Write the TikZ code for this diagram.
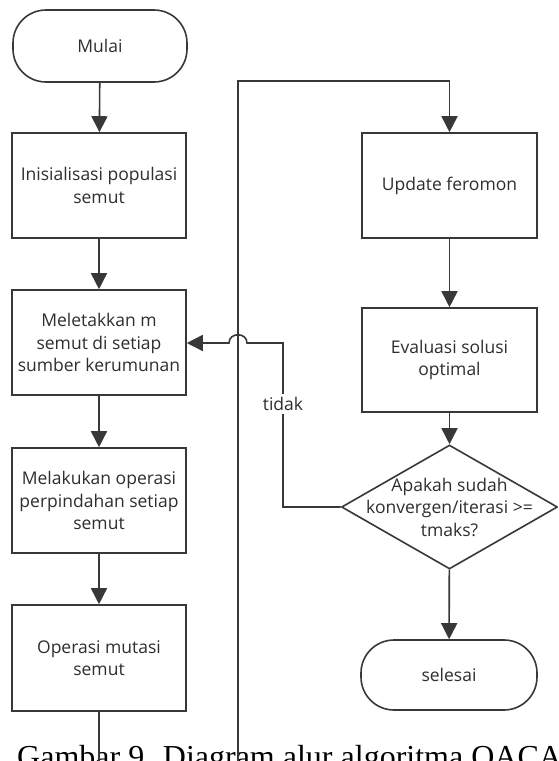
\documentclass[tikz,border=0pt]{standalone}
\usepackage{fontspec}
\setmainfont{Open Sans}
\newfontfamily\capfont{Liberation Serif}
\usetikzlibrary{shapes.geometric,arrows.meta}
\begin{document}
\begin{tikzpicture}[x=1pt,y=-1pt,
  ln/.style={draw=black!78, line width=1.6pt},
  arr/.style={ln, -{Triangle[length=16pt,width=16pt]}},
  txt/.style={font=\fontsize{17.5}{22.5}\selectfont, text=black!82},
  box/.style={ln, txt, fill=white, minimum width=174pt, minimum height=105pt, align=center, inner sep=0pt},
  term/.style={box, rounded corners=33pt, minimum height=72pt},
  dec/.style={ln, diamond, fill=white, minimum width=216pt, minimum height=124pt, inner sep=0pt}
]
\useasboundingbox (0,0) rectangle (558,761);
\fill[white] (0,0) rectangle (558,761);
\clip (0,0) rectangle (558,761);

% caption (cut off at the bottom edge)
\node[anchor=base west, inner sep=0pt, font=\capfont\fontsize{32}{38}\selectfont, text=black] (cap) at (17,767) {Gambar 9. Diagram alur algoritma OACA};

% left column
\node[term] (start) at (100,46) {Mulai};
\node[box] (b1) at (99,185.5) {Inisialisasi populasi\\semut};
\node[box] (b2) at (99,342.5) {Meletakkan m\\semut di setiap\\sumber kerumunan};
\node[box] (b3) at (99,500.5) {Melakukan operasi\\perpindahan setiap\\semut};
\node[box, minimum height=106pt] (b4) at (99,658) {Operasi mutasi\\semut};

% right column
\node[box, minimum width=175pt] (upd) at (449.5,185.5) {Update feromon};
\node[box, minimum width=175pt, minimum height=104pt] (eva) at (449.5,360) {Evaluasi solusi\\optimal};
\node[dec] (dia) at (449.5,507) {};
\node[txt, align=center, inner sep=0pt] (diat) at (449.5,507) {Apakah sudah\\konvergen/iterasi >=\\tmaks?};
\node[term, minimum width=176pt, minimum height=70pt] (end) at (449,675) {selesai};

% connectors
\draw[arr] (start) -- (b1);
\draw[arr] (b1) -- (b2);
\draw[arr] (b2) -- (b3);
\draw[arr] (b3) -- (b4);

\coordinate (c1) at (99,800);
\coordinate (c2) at (238,800);
\coordinate (c3) at (238,81);
\draw[arr] (b4.south) -- (c1) -- (c2) -- (c3) -| (upd.north);

\draw[arr] (upd) -- (eva);
\draw[arr] (eva) -- (dia);
\draw[arr] (dia) -- (end);

% "tidak" feedback with jump-over
\coordinate (f1) at (283,507);
\coordinate (f2) at (283,343);
\coordinate (j1) at (247,343);
\coordinate (j2) at (229,343);
\draw[arr] (dia.west) -- (f1) -- (f2) -- (j1) .. controls (247,332) and (229,332) .. (j2) -- (b2.east |- j2);
\node[txt, fill=white, inner sep=3pt] (tidak) at (283,404) {tidak};
\end{tikzpicture}
\end{document}
